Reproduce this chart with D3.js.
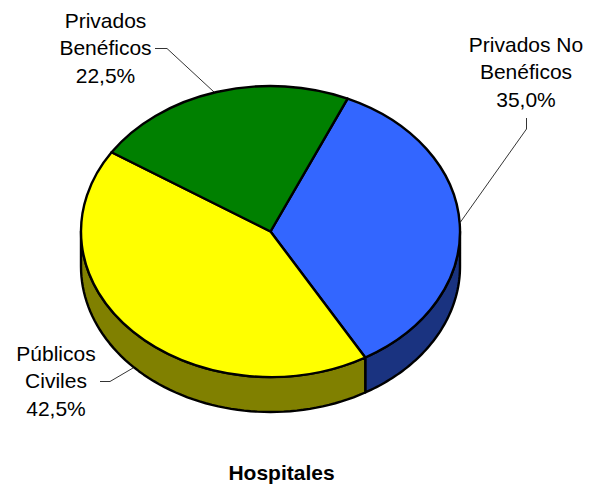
<!DOCTYPE html>
<html><head><meta charset="utf-8">
<script src="https://cdn.jsdelivr.net/npm/d3@7/dist/d3.min.js"></script>
<style>html,body{margin:0;padding:0;background:#fff}svg{display:block}text{font-family:"Liberation Sans",Arial,sans-serif;fill:#000}</style>
</head><body><script>
const categories = ["Privados No Benéficos", "Públicos Civiles", "Privados Benéficos"];
const values = [35.0, 42.5, 22.5];
const topColors = ["#3366ff", "#ffff00", "#008000"];
const sideColors = ["#1a3380", "#808000", "#004000"];
const labelLines = [["Privados No","Benéficos","35,0%"],["Públicos","Civiles","42,5%"],["Privados","Benéficos","22,5%"]];
const labelPos = [[526,52],[56,361],[105.5,28]];
const leaders = [
  [[526.5,118],[526.5,129],[460.5,222]],
  [[100,381.5],[110,381.5],[133,368]],
  [[155,48.5],[167,48.5],[214,92]]
];
const title = "Hospitales";

const W=594,H=489,cx=270.5,cy=231.5,rx=189.5,ry=145.5,depth=35;
const svg=d3.select("body").append("svg").attr("width",W).attr("height",H);
const pie=d3.pie().sort(null).startAngle(24*Math.PI/180).endAngle((24+360)*Math.PI/180)(values);
const px=a=>cx+rx*Math.sin(a), py=a=>cy-ry*Math.cos(a);

// side walls: visible part of each slice lies between 90° and 270° (clock angle)
pie.forEach((d,i)=>{
  const a0=Math.max(d.startAngle,Math.PI/2), a1=Math.min(d.endAngle,3*Math.PI/2);
  if(a1<=a0) return;
  const steps=d3.range(0,61).map(k=>a0+(a1-a0)*k/60);
  const line=d3.line();
  const pts=steps.map(a=>[px(a),py(a)]).concat(steps.slice().reverse().map(a=>[px(a),py(a)+depth]));
  svg.append("path").attr("d",line(pts)+"Z").attr("fill",sideColors[i])
    .attr("stroke","#000").attr("stroke-width",2.4).attr("stroke-linejoin","round");
});

// top face
const arc=d3.arc().innerRadius(0).outerRadius(rx);
const g=svg.append("g").attr("transform",`translate(${cx},${cy}) scale(1,${ry/rx})`);
g.selectAll("path").data(pie).join("path").attr("d",arc)
  .attr("fill",(d,i)=>topColors[i]).attr("stroke","#000").attr("stroke-width",2.4)
  .attr("stroke-linejoin","round").attr("vector-effect","non-scaling-stroke");

// leaders
svg.append("g").selectAll("path").data(leaders).join("path")
  .attr("d",d=>d3.line()(d)).attr("fill","none").attr("stroke","#000").attr("stroke-width",0.8);

// labels
labelLines.forEach((lines,i)=>{
  const t=svg.append("text").attr("text-anchor","middle").attr("font-size",21);
  lines.forEach((s,k)=>t.append("tspan").attr("x",labelPos[i][0]).attr("y",labelPos[i][1]+k*27.3).text(s));
});
svg.append("text").attr("x",281.5).attr("y",480).attr("text-anchor","middle")
  .attr("font-size",21).attr("font-weight","bold").text(title);
</script></body></html>
